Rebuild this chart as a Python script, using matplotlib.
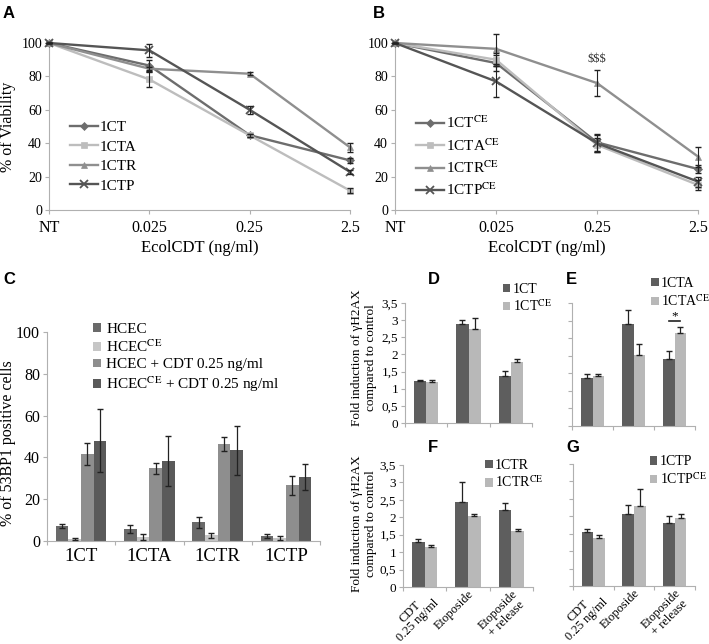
import matplotlib

matplotlib.use("Agg")
import matplotlib.pyplot as plt
import numpy as np
from matplotlib.ticker import FuncFormatter

plt.rcParams["font.family"] = ["Liberation Serif", "DejaVu Serif"]
plt.rcParams["mathtext.fontset"] = "stix"

W, H = 709, 644

# --- A / B : viability curves ---
doses = ["NT", "0.025", "0.25", "2.5"]
names_a = ["1CT", "1CTA", "1CTR", "1CTP"]
names_b = ["1CT$^{\\mathrm{CE}}$", "1CTA$^{\\mathrm{CE}}$", "1CTR$^{\\mathrm{CE}}$", "1CTP$^{\\mathrm{CE}}$"]
viab_a = [[100, 86.5, 44.8, 29.7], [100, 78.2, 44.7, 11.6], [100, 84.6, 81.6, 37.5], [100, 95.6, 60.0, 22.8]]
err_a = [[0, 3.5, 1.0, 1.5], [0, 4.7, 1.0, 1.5], [0, 1.0, 0.8, 2.5], [0, 4.0, 2.5, 1.0]]
viab_b = [[100, 88.0, 40.5, 24.5], [100, 90.0, 39.0, 15.0], [100, 96.5, 76.0, 32.0], [100, 77.0, 40.0, 17.0]]
err_b = [[0, 5.0, 5.0, 2.5], [0, 4.0, 4.0, 3.0], [0, 9.0, 7.7, 6.0], [0, 9.5, 5.0, 3.0]]
line_colors = ["#6d6d6d", "#bdbdbd", "#8f8f8f", "#555555"]
line_markers = ["D", "s", "^", "x"]

# --- C : 53BP1 ---
cell_lines = ["1CT", "1CTA", "1CTR", "1CTP"]
conds_c = ["HCEC", "HCEC$^{\\mathrm{CE}}$", "HCEC + CDT 0.25 ng/ml", "HCEC$^{\\mathrm{CE}}$ + CDT 0.25 ng/ml"]
bp1_vals = [[7.0, 5.6, 9.0, 2.4], [0.8, 2.1, 2.7, 1.5], [41.5, 34.7, 46.5, 26.6], [48.0, 38.3, 43.4, 30.7]]
bp1_err = [[1.0, 2.0, 2.6, 1.1], [0.5, 1.4, 1.3, 1.1], [5.3, 2.8, 3.3, 4.7], [15.0, 12.0, 11.8, 6.1]]
colors_c = ["#6a6a6a", "#c6c6c6", "#8e8e8e", "#5a5a5a"]

# --- D-G : gamma H2AX ---
treatments = ["CDT\n0.25 ng/ml", "Etoposide", "Etoposide\n+ release"]
h2ax_d = [[1.22, 2.89, 1.38], [1.19, 2.74, 1.78]]
h2ax_d_err = [[0.03, 0.12, 0.15], [0.05, 0.33, 0.10]]
h2ax_e = [[1.36, 2.90, 1.90], [1.42, 2.03, 2.64]]
h2ax_e_err = [[0.12, 0.40, 0.23], [0.05, 0.29, 0.17]]
h2ax_f = [[1.29, 2.43, 2.20], [1.16, 2.03, 1.61]]
h2ax_f_err = [[0.08, 0.57, 0.20], [0.04, 0.06, 0.04]]
h2ax_g = [[1.55, 2.07, 1.80], [1.39, 2.30, 1.96]]
h2ax_g_err = [[0.08, 0.24, 0.20], [0.08, 0.49, 0.10]]
colors_h2ax = ["#5e5e5e", "#b8b8b8"]

SPINE = "#b0b0b0"


def px_axes(fig, left, top, right, bottom):
    """Axes from pixel box (origin top-left)."""
    return fig.add_axes([left / W, 1 - bottom / H, (right - left) / W, (bottom - top) / H])


def style_axes(ax):
    for side in ("top", "right"):
        ax.spines[side].set_visible(False)
    for side in ("left", "bottom"):
        ax.spines[side].set_color(SPINE)
    ax.tick_params(color=SPINE, length=3, width=0.8)


def viability_panel(ax, names, vals, errs):
    style_axes(ax)
    x = np.arange(len(doses))
    for name, v, e, c, m in zip(names, vals, errs, line_colors, line_markers):
        # error bars first, then the line so the legend shows line + marker only
        ax.errorbar(x, v, yerr=e, fmt="none", ecolor="#222222",
                    elinewidth=0.8, capsize=2, clip_on=False, zorder=4)
        ax.plot(x, v, color=c, marker=m, ms=4.5 if m != "x" else 5.5,
                mew=1.3 if m == "x" else 0.5, lw=1.7, label=name,
                clip_on=False, zorder=3)
    ax.set_xlim(0, 3)
    ax.set_ylim(0, 100)
    ax.set_xticks(x)
    ax.set_xticklabels(doses, fontsize=11.5)
    ax.set_yticks(range(0, 101, 20))
    ax.tick_params(axis="y", labelsize=10, pad=2)
    ax.tick_params(axis="x", pad=4)
    ax.set_xlabel("EcolCDT (ng/ml)", fontsize=12, labelpad=3)
    ax.legend(loc="center left", bbox_to_anchor=(0.07, 0.32), frameon=False,
              fontsize=11, handlelength=1.8, handletextpad=0.15,
              labelspacing=0.38, borderaxespad=0, borderpad=0)


def h2ax_panel(ax, vals, errs, labels, show_xlabels, show_ylabels, leg_xy):
    style_axes(ax)
    x = np.arange(len(treatments)) + 0.5
    w = 0.29
    for i, (v, e, c, lab) in enumerate(zip(vals, errs, colors_h2ax, labels)):
        pos = x + (i - 0.5) * w
        ax.bar(pos, v, width=w, color=c, label=lab, zorder=2)
        ax.errorbar(pos, v, yerr=[np.zeros(len(e)), e], fmt="none",
                    ecolor="#222222", elinewidth=0.9, capsize=2, zorder=3)
    ax.set_xlim(0, 3)
    ax.set_ylim(0, 3.5)
    ax.set_yticks(np.arange(0, 3.6, 0.5))
    ax.yaxis.set_major_formatter(FuncFormatter(lambda v, _: f"{v:g}".replace(".", ",")))
    ax.set_xticks([0, 1, 2, 3])
    ax.set_xticks(x, minor=True)
    ax.tick_params(axis="x", which="major", labelbottom=False)
    ax.tick_params(axis="x", which="minor", length=0, labelsize=9, pad=1)
    if show_xlabels:
        ax.set_xticklabels(treatments, minor=True, rotation=45, ha="right",
                           rotation_mode="anchor", linespacing=1.0,
                           multialignment="center")
    ax.tick_params(axis="y", labelsize=9.5, labelleft=show_ylabels, pad=2)
    ax.legend(loc="upper left", bbox_to_anchor=leg_xy, frameon=False,
              fontsize=10, handlelength=0.55, handleheight=0.55,
              handletextpad=0.15, labelspacing=0.2, borderaxespad=0, borderpad=0)


def main() -> None:
    fig = plt.figure(figsize=(W / 100, H / 100), dpi=100)

    ax_a = px_axes(fig, 49, 43, 350, 210)
    viability_panel(ax_a, names_a, viab_a, err_a)
    ax_a.set_ylabel("% of Viability", fontsize=11.5)
    ax_a.yaxis.set_label_coords(-0.108, 0.5)

    ax_b = px_axes(fig, 395, 43, 698, 210)
    viability_panel(ax_b, names_b, viab_b, err_b)
    ax_b.text(2, 87, "$$$", ha="center", va="bottom", fontsize=9, color="#333333")

    # panel C
    ax_c = px_axes(fig, 47, 332, 320, 541)
    style_axes(ax_c)
    xc = np.arange(len(cell_lines)) + 0.5
    bw = 0.185
    for i, (v, e, c, lab) in enumerate(zip(bp1_vals, bp1_err, colors_c, conds_c)):
        pos = xc + (i - 1.5) * bw
        ax_c.bar(pos, v, width=bw, color=c, label=lab, zorder=2)
        ax_c.errorbar(pos, v, yerr=e, fmt="none", ecolor="#222222",
                      elinewidth=0.9, capsize=2, zorder=3)
    ax_c.set_xlim(0, 4)
    ax_c.set_ylim(0, 100)
    ax_c.set_yticks(range(0, 101, 20))
    ax_c.set_xticks(range(0, 5))
    ax_c.set_xticks(xc, minor=True)
    ax_c.set_xticklabels(cell_lines, minor=True)
    ax_c.tick_params(axis="x", which="major", labelbottom=False)
    ax_c.tick_params(axis="x", which="minor", length=0, labelsize=13.5, pad=5)
    ax_c.tick_params(axis="y", labelsize=11.5, pad=2)
    ax_c.set_ylabel("% of 53BP1 positive cells", fontsize=11.5)
    ax_c.yaxis.set_label_coords(-0.115, 0.47)
    ax_c.legend(loc="upper left", bbox_to_anchor=(0.17, 1.045), frameon=False,
                fontsize=11, handlelength=0.5, handleheight=0.5,
                handletextpad=0.35, labelspacing=0.2, borderaxespad=0, borderpad=0)

    ax_d = px_axes(fig, 405, 303, 532, 423)
    h2ax_panel(ax_d, h2ax_d, h2ax_d_err, ["1CT", "1CT$^{\\mathrm{CE}}$"], False, True, (0.77, 1.17))
    ax_e = px_axes(fig, 572, 303, 695, 426)
    h2ax_panel(ax_e, h2ax_e, h2ax_e_err, ["1CTA", "1CTA$^{\\mathrm{CE}}$"], False, False, (0.645, 1.21))
    # significance bar over the release group
    ax_e.plot([2.36, 2.64], [3.0, 3.0], color="#222222", lw=1.2, zorder=3)
    ax_e.text(2.5, 2.95, "*", ha="center", va="bottom", fontsize=9.5)

    ax_f = px_axes(fig, 403, 465, 533, 587)
    h2ax_panel(ax_f, h2ax_f, h2ax_f_err, ["1CTR", "1CTR$^{\\mathrm{CE}}$"], True, True, (0.63, 1.05))
    ax_g = px_axes(fig, 573, 464, 695, 586)
    h2ax_panel(ax_g, h2ax_g, h2ax_g_err, ["1CTP", "1CTP$^{\\mathrm{CE}}$"], True, False, (0.63, 1.07))

    ylab = "Fold induction of \u03b3H2AX\ncompared to control"
    fig.text(364 / W, 1 - 358 / H, ylab, rotation=90, ha="center", va="center",
             fontsize=9.5, linespacing=1.15)
    fig.text(364 / W, 1 - 524 / H, ylab, rotation=90, ha="center", va="center",
             fontsize=9.5, linespacing=1.15)

    # panel letters
    letter_font = dict(family="Liberation Sans", fontweight="bold", fontsize=12,
                       va="center", ha="left")
    for letter, xp, yp in [("A", 3, 13), ("B", 373, 13), ("C", 3, 279),
                           ("D", 428, 279), ("E", 566, 279), ("F", 428, 448),
                           ("G", 566, 447)]:
        fig.text(xp / W, 1 - yp / H, letter, **letter_font)

    fig.savefig("out.png", dpi=100)
    plt.close(fig)


if __name__ == "__main__":
    main()
